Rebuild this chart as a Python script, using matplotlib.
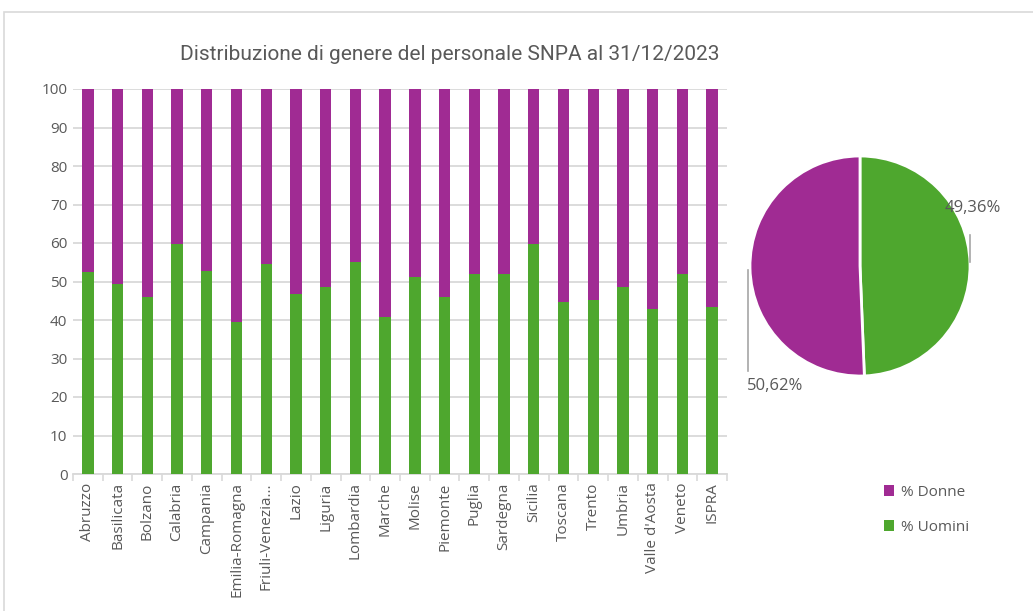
import matplotlib
matplotlib.use("Agg")
import numpy as np
from matplotlib import pyplot as plt
from matplotlib.patches import Patch, Rectangle

# ------------------------ data --------------------------------------
regioni = [
    "Abruzzo", "Basilicata", "Bolzano", "Calabria", "Campania",
    "Emilia-Romagna", "Friuli-Venezia...", "Lazio", "Liguria", "Lombardia",
    "Marche", "Molise", "Piemonte", "Puglia", "Sardegna", "Sicilia",
    "Toscana", "Trento", "Umbria", "Valle d'Aosta", "Veneto", "ISPRA",
]
uomini = [
    52.5, 49.4, 46.0, 59.8, 52.8, 39.6, 54.6, 46.8, 48.6, 55.1, 40.8,
    51.1, 46.1, 51.9, 51.9, 59.8, 44.6, 45.3, 48.6, 42.9, 51.9, 43.3,
]
donne = [100 - u for u in uomini]

pie_labels = ["% Uomini", "% Donne"]
pie_values = [49.36, 50.62]
pie_text = ["49,36%", "50,62%"]

yticks = list(range(0, 101, 10))

# ------------------------ style -------------------------------------
c_donne = "#A02B93"
c_uomini = "#4EA72E"
c_text = "#595959"
c_grid = "#D9D9D9"
plt.rcParams["font.family"] = ["Open Sans", "DejaVu Sans"]

fig = plt.figure(figsize=(10.33, 6.11), dpi=100)
fig.patches.append(
    Rectangle((4 / 1033, -0.01), 1.0, 1 - 12 / 611 + 0.01, transform=fig.transFigure,
              fill=False, edgecolor=c_grid, linewidth=1.2)
)

fig.text(450 / 1033, 1 - 55 / 611, "Distribuzione di genere del personale SNPA al 31/12/2023",
         ha="center", va="center", fontsize=15, color=c_text,
         family=["Roboto", "DejaVu Sans"])

# ------------------------ bars --------------------------------------
ax = fig.add_axes([73 / 1033, 1 - 474 / 611, 654 / 1033, 385 / 611])
x = np.arange(len(regioni))
w = 0.38
ax.bar(x, uomini, width=w, color=c_uomini, zorder=3)
ax.bar(x, donne, width=w, bottom=uomini, color=c_donne, zorder=3)

ax.set_xlim(-0.5, len(regioni) - 0.5)
ax.set_ylim(0, 100)
ax.set_yticks(yticks)
ax.yaxis.grid(True, color=c_grid, linewidth=1.3, zorder=0)
ax.tick_params(axis="y", length=0, labelsize=11, labelcolor=c_text, pad=4)
ax.set_xticks(x)
ax.set_xticklabels(regioni, rotation=90, fontsize=11, color=c_text)
ax.tick_params(axis="x", which="major", length=0, pad=6)
ax.set_xticks(np.arange(-0.5, len(regioni), 1.0), minor=True)
ax.tick_params(axis="x", which="minor", length=5, color=c_grid, width=1.2)
for s in ["top", "right", "left"]:
    ax.spines[s].set_visible(False)
ax.spines["bottom"].set_color(c_grid)
ax.spines["bottom"].set_linewidth(1.3)

# ------------------------ pie ---------------------------------------
axp = fig.add_axes([750 / 1033, 1 - 376 / 611, 220 / 1033, 220 / 611])
axp.pie(pie_values, colors=[c_uomini, c_donne], startangle=90, counterclock=False,
        wedgeprops={"edgecolor": "white", "linewidth": 2})
axp.set_xlim(-1, 1)
axp.set_ylim(-1, 1)
axp.set_aspect("equal")
axp.axis("off")

axp.plot([1.0, 1.0], [0.04, 0.28], color="#A6A6A6", linewidth=1.2, clip_on=False)
axp.text(0.77, 0.53, pie_text[0], ha="left", va="center", fontsize=12, color=c_text)
axp.plot([-1.02, -1.02], [-0.04, -0.95], color="#A6A6A6", linewidth=1.2, clip_on=False)
axp.text(-1.03, -1.09, pie_text[1], ha="left", va="center", fontsize=12, color=c_text)

handles = [Patch(facecolor=c_donne, label=pie_labels[1]),
           Patch(facecolor=c_uomini, label=pie_labels[0])]
fig.legend(handles=handles, loc="center left", bbox_to_anchor=(870 / 1033, 1 - 510 / 611),
           frameon=False, fontsize=11, labelcolor=c_text, handlelength=0.7,
           handleheight=0.7, handletextpad=0.4, labelspacing=1.3)

plt.savefig("out.png", dpi=100)
